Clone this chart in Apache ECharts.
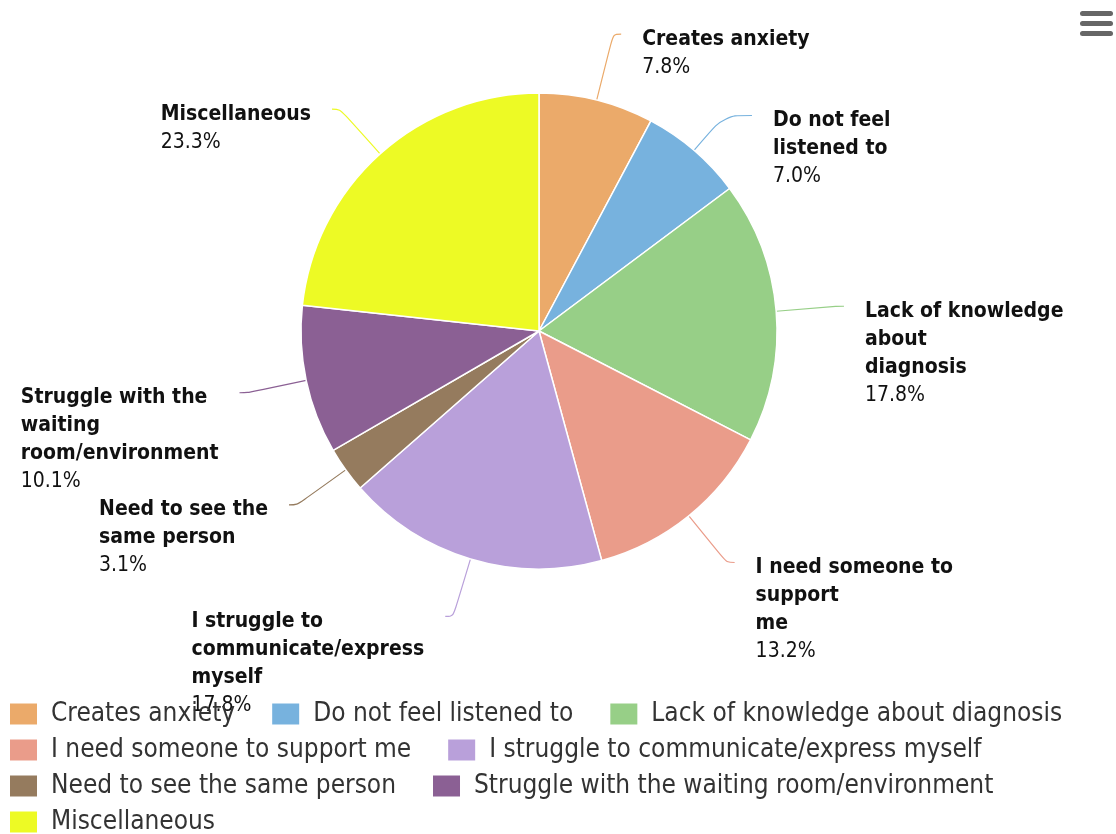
<!DOCTYPE html>
<html>
<head>
<meta charset="utf-8">
<script src="https://cdn.jsdelivr.net/npm/echarts@6/dist/echarts.min.js"></script>
<style>
  html, body { margin: 0; padding: 0; background: #fff; }
  #chart { width: 1116px; height: 834px; }
</style>
</head>
<body>
<div id="chart"></div>
<script>
// Survey responses: share of each reason (percent)
const categories = [
  'Creates anxiety',
  'Do not feel listened to',
  'Lack of knowledge about diagnosis',
  'I need someone to support me',
  'I struggle to communicate/express myself',
  'Need to see the same person',
  'Struggle with the waiting room/environment',
  'Miscellaneous'
];
// Wrapped versions of the names for the slice labels
const labelNames = [
  'Creates anxiety',
  'Do not feel\nlistened to',
  'Lack of knowledge\nabout\ndiagnosis',
  'I need someone to\nsupport\nme',
  'I struggle to\ncommunicate/express\nmyself',
  'Need to see the\nsame person',
  'Struggle with the\nwaiting\nroom/environment',
  'Miscellaneous'
];
const percents = [7.8, 7.0, 17.8, 13.2, 17.8, 3.1, 10.1, 23.3];
const colors = ['#EBAA6A', '#77B2DE', '#97CF87', '#EA9C8A', '#B9A0DA', '#957B5E', '#8B6094', '#EDFA25'];

const FONT = '"DejaVu Sans Condensed", "DejaVu Sans", sans-serif';

// Connector lengths for the two crowded labels at the top right
const connectorOverrides = {
  0: { length: 68, length2: 8 },
  1: { length: 46, length2: 28 }
};

const chart = echarts.init(document.getElementById('chart'), null, { renderer: 'canvas' });

const seriesData = categories.map((name, i) => {
  const item = { name: name, value: percents[i], labelName: labelNames[i] };
  if (connectorOverrides[i]) item.labelLine = connectorOverrides[i];
  return item;
});

chart.setOption({
  animation: false,
  color: colors,
  legend: {
    orient: 'horizontal',
    left: 8,
    top: 701,
    padding: 0,
    width: 1105,
    itemWidth: 29,
    itemHeight: 23,
    itemGap: 10,
    icon: 'rect',
    data: categories,
    // leading / trailing spacer tokens widen the gaps around each legend entry
    formatter: name => '{s|}{t|' + name + '}{g|}',
    textStyle: {
      fontFamily: FONT,
      fontSize: 26,
      lineHeight: 24,
      color: '#333333',
      rich: {
        s: { width: 8, lineHeight: 24 },
        t: { fontFamily: FONT, fontSize: 26, lineHeight: 24, color: '#333333' },
        g: { width: 25, lineHeight: 24 }
      }
    }
  },
  series: [{
    type: 'pie',
    center: [539, 331],
    radius: 238,
    startAngle: 90,
    clockwise: true,
    avoidLabelOverlap: false,
    data: seriesData,
    itemStyle: { borderColor: '#ffffff', borderWidth: 1.5 },
    emphasis: { disabled: true },
    label: {
      show: true,
      position: 'outside',
      formatter: p => '{n|' + p.data.labelName.split('\n').join('}\n{n|') + '}\n{v|' + p.value.toFixed(1) + '%}',
      distanceToLabelLine: 21,
      rich: {
        n: { fontFamily: FONT, fontSize: 21, fontWeight: 'bold', color: '#111111', lineHeight: 28, align: 'left' },
        v: { fontFamily: FONT, fontSize: 21, color: '#111111', lineHeight: 28, align: 'left' }
      }
    },
    labelLine: {
      show: true,
      length: 60,
      length2: 8,
      smooth: 0.35,
      lineStyle: { width: 1.2 }
    },
    labelLayout: { verticalAlign: 'top', dy: -9 }
  }],
  graphic: [
    { type: 'rect', shape: { x: 1080, y: 11, width: 33, height: 5, r: 2.5 }, style: { fill: '#666666' } },
    { type: 'rect', shape: { x: 1080, y: 21, width: 33, height: 5, r: 2.5 }, style: { fill: '#666666' } },
    { type: 'rect', shape: { x: 1080, y: 31, width: 33, height: 5, r: 2.5 }, style: { fill: '#666666' } }
  ]
});
</script>
</body>
</html>
